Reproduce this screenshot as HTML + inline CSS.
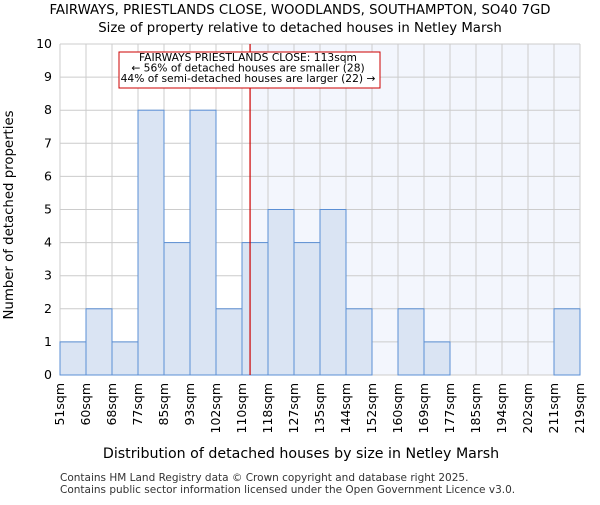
<!DOCTYPE html>
<html><head><meta charset="utf-8"><style>body{margin:0;background:#fff}svg{font-family:"DejaVu Sans","Liberation Sans",sans-serif}</style></head>
<body>
<svg id="c" width="600" height="500">
<text x="300" y="14" text-anchor="middle" font-size="13.3">FAIRWAYS, PRIESTLANDS CLOSE, WOODLANDS, SOUTHAMPTON, SO40 7GD</text>
<text x="300" y="32" text-anchor="middle" font-size="13.3">Size of property relative to detached houses in Netley Marsh</text>
<g id="g"></g>
<text x="301" y="458" text-anchor="middle" font-size="14.2">Distribution of detached houses by size in Netley Marsh</text>
<text transform="translate(13,215) rotate(-90)" text-anchor="middle" font-size="13.3">Number of detached properties</text>
<text x="60" y="481" font-size="10.5" fill="#333">Contains HM Land Registry data © Crown copyright and database right 2025.</text>
<text x="60" y="493" font-size="10.5" fill="#333">Contains public sector information licensed under the Open Government Licence v3.0.</text>
</svg>
<script>
const categories=["51sqm","60sqm","68sqm","77sqm","85sqm","93sqm","102sqm","110sqm","118sqm","127sqm","135sqm","144sqm","152sqm","160sqm","169sqm","177sqm","185sqm","194sqm","202sqm","211sqm","219sqm"];
const counts=[1,2,1,8,4,8,2,4,5,4,5,2,0,2,1,0,0,0,0,2];
const yTicks=[0,1,2,3,4,5,6,7,8,9,10];
const markerIndex=7.31;
const NS="http://www.w3.org/2000/svg",g=document.getElementById('g');
const x0=60,x1=580,y0=375,y1=44,n=counts.length,bw=(x1-x0)/n;
const X=i=>x0+i*bw,Y=v=>y0-(v/10)*(y0-y1);
function el(t,a){const e=document.createElementNS(NS,t);for(const k in a)e.setAttribute(k,a[k]);g.appendChild(e);return e;}
const mx=X(markerIndex);
let e=el('rect',{x:mx,y:y1,width:x1-mx,height:y0-y1,fill:'#f3f6fd'});


yTicks.forEach(v=>{let l=el('line',{x1:x0,x2:x1,y1:Y(v),y2:Y(v),stroke:'#ccc'});


let t=el('text',{x:x0-8,y:Y(v)+4,'text-anchor':'end','font-size':12.5});t.textContent=v;

});
categories.forEach((c,i)=>{let l=el('line',{x1:X(i),x2:X(i),y1:y1,y2:y0,stroke:'#ccc'});


let t=el('text',{transform:`translate(${X(i)+4},${y0+8}) rotate(-90)`,'text-anchor':'end','font-size':12.5});t.textContent=c;

});
counts.forEach((v,i)=>{if(!v)return;let r=el('rect',{x:X(i),y:Y(v),width:bw,height:y0-Y(v),fill:'#dae4f3',stroke:'#5b8fd4','stroke-width':1});

});
e=el('line',{x1:mx,x2:mx,y1:y1,y2:y0,stroke:'#cc0000','stroke-width':1.2});


e=el('rect',{x:119,y:52,width:261,height:36,fill:'#fff',stroke:'#cc0000'});


["FAIRWAYS PRIESTLANDS CLOSE: 113sqm","← 56% of detached houses are smaller (28)","44% of semi-detached houses are larger (22) →"].forEach((s,k)=>{let t=el('text',{x:248,y:61+k*10.5,'text-anchor':'middle','font-size':10.7});t.textContent=s;

});
</script>
</body></html>
